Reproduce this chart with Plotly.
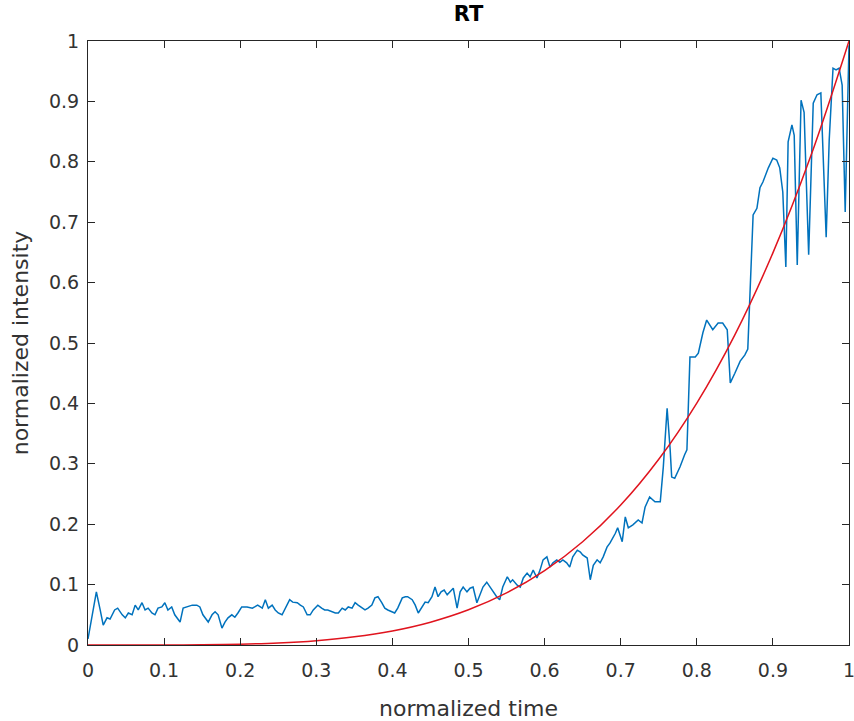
import plotly.graph_objects as go

# Measured intensity trace (normalized time vs normalized intensity)
time_pts = [
    0.000, 0.011, 0.016, 0.020, 0.025, 0.029, 0.035, 0.039, 0.045, 0.049,
    0.053, 0.058, 0.062, 0.066, 0.071, 0.075, 0.079, 0.084, 0.088, 0.092,
    0.097, 0.101, 0.105, 0.110, 0.114, 0.121, 0.125, 0.131, 0.137, 0.143,
    0.147, 0.151, 0.158, 0.163, 0.167, 0.171, 0.176, 0.180, 0.184, 0.189,
    0.193, 0.197, 0.202, 0.209, 0.216, 0.219, 0.223, 0.229, 0.233, 0.237,
    0.242, 0.246, 0.250, 0.255, 0.259, 0.265, 0.269, 0.275, 0.279, 0.283,
    0.288, 0.292, 0.296, 0.302, 0.307, 0.311, 0.315, 0.321, 0.325, 0.329,
    0.334, 0.338, 0.342, 0.347, 0.351, 0.355, 0.360, 0.364, 0.368, 0.373,
    0.377, 0.381, 0.386, 0.390, 0.394, 0.399, 0.403, 0.407, 0.413, 0.417,
    0.420, 0.426, 0.430, 0.434, 0.439, 0.443, 0.447, 0.452, 0.456, 0.460,
    0.464, 0.468, 0.472, 0.476, 0.480, 0.485, 0.489, 0.493, 0.498, 0.502,
    0.506, 0.511, 0.515, 0.519, 0.524, 0.528, 0.532, 0.537, 0.541, 0.545,
    0.551, 0.555, 0.558, 0.564, 0.568, 0.572, 0.577, 0.581, 0.585, 0.590,
    0.594, 0.598, 0.603, 0.607, 0.611, 0.616, 0.620, 0.624, 0.629, 0.633,
    0.637, 0.643, 0.647, 0.650, 0.656, 0.660, 0.664, 0.669, 0.673, 0.677,
    0.682, 0.686, 0.693, 0.696, 0.702, 0.706, 0.710, 0.716, 0.723, 0.728,
    0.732, 0.738, 0.745, 0.752, 0.756, 0.761, 0.765, 0.767, 0.771, 0.778,
    0.784, 0.787, 0.791, 0.798, 0.802, 0.808, 0.813, 0.817, 0.821, 0.828,
    0.834, 0.840, 0.844, 0.850, 0.857, 0.863, 0.867, 0.874, 0.879, 0.883,
    0.887, 0.894, 0.900, 0.905, 0.909, 0.913, 0.917, 0.920, 0.925, 0.928,
    0.932, 0.937, 0.941, 0.947, 0.953, 0.958, 0.963, 0.970, 0.974, 0.979,
    0.983, 0.987, 0.991, 0.995, 0.999, 1.000,
]
intensity = [
    0.010, 0.088, 0.058, 0.033, 0.045, 0.043, 0.058, 0.061, 0.050, 0.045,
    0.053, 0.050, 0.066, 0.058, 0.070, 0.058, 0.061, 0.053, 0.050, 0.061,
    0.063, 0.070, 0.058, 0.063, 0.050, 0.038, 0.061, 0.063, 0.066, 0.066,
    0.063, 0.050, 0.038, 0.050, 0.055, 0.050, 0.028, 0.038, 0.045, 0.050,
    0.046, 0.053, 0.063, 0.063, 0.061, 0.063, 0.066, 0.061, 0.075, 0.061,
    0.066, 0.058, 0.053, 0.050, 0.061, 0.075, 0.071, 0.070, 0.066, 0.063,
    0.050, 0.050, 0.058, 0.066, 0.061, 0.058, 0.058, 0.055, 0.053, 0.053,
    0.061, 0.058, 0.063, 0.061, 0.070, 0.066, 0.061, 0.058, 0.061, 0.066,
    0.078, 0.080, 0.070, 0.061, 0.058, 0.055, 0.053, 0.061, 0.078, 0.080,
    0.080, 0.075, 0.066, 0.053, 0.063, 0.071, 0.070, 0.080, 0.096, 0.080,
    0.088, 0.091, 0.083, 0.088, 0.094, 0.061, 0.088, 0.096, 0.088, 0.094,
    0.096, 0.070, 0.083, 0.096, 0.104, 0.096, 0.088, 0.080, 0.075, 0.096,
    0.113, 0.104, 0.108, 0.099, 0.096, 0.111, 0.119, 0.113, 0.124, 0.111,
    0.124, 0.141, 0.146, 0.129, 0.136, 0.141, 0.137, 0.141, 0.136, 0.129,
    0.146, 0.157, 0.154, 0.149, 0.144, 0.108, 0.132, 0.141, 0.136, 0.146,
    0.162, 0.169, 0.185, 0.194, 0.171, 0.212, 0.194, 0.199, 0.207, 0.202,
    0.228, 0.245, 0.237, 0.237, 0.295, 0.392, 0.323, 0.278, 0.276, 0.295,
    0.315, 0.323, 0.477, 0.477, 0.483, 0.517, 0.538, 0.530, 0.522, 0.533,
    0.533, 0.522, 0.434, 0.450, 0.470, 0.480, 0.490, 0.712, 0.723, 0.757,
    0.767, 0.790, 0.806, 0.803, 0.790, 0.750, 0.626, 0.833, 0.861, 0.844,
    0.629, 0.902, 0.882, 0.646, 0.897, 0.911, 0.914, 0.675, 0.836, 0.955,
    0.952, 0.955, 0.927, 0.717, 0.965, 0.993,
]

# Fitted curve
fit_time = [0.00, 0.05, 0.10, 0.15, 0.20, 0.25, 0.30, 0.35, 0.40, 0.45, 0.50,
            0.55, 0.60, 0.65, 0.70, 0.75, 0.80, 0.85, 0.90, 0.95, 1.00]
fit_value = [0.0, 0.0, 0.0001, 0.0004, 0.0014, 0.0034, 0.0072, 0.0135, 0.0233,
             0.0378, 0.0583, 0.0862, 0.1231, 0.1710, 0.2317, 0.3075, 0.4006,
             0.5136, 0.6492, 0.8103, 1.0]

tick_vals = [0, 0.1, 0.2, 0.3, 0.4, 0.5, 0.6, 0.7, 0.8, 0.9, 1]
tick_text = ["0", "0.1", "0.2", "0.3", "0.4", "0.5", "0.6", "0.7", "0.8", "0.9", "1"]

FONT = "DejaVu Sans, Arial, sans-serif"
AX_COLOR = "#262626"
TXT_COLOR = "#333333"

fig = go.Figure()
fig.add_trace(go.Scatter(x=time_pts, y=intensity, mode="lines",
                         line=dict(color="#0072BD", width=1.5),
                         showlegend=False, hoverinfo="skip"))
fig.add_trace(go.Scatter(x=fit_time, y=fit_value, mode="lines",
                         line=dict(color="#E0141E", width=1.5, shape="spline", smoothing=1.0),
                         showlegend=False, hoverinfo="skip"))

axis_common = dict(
    range=[0, 1], tickvals=tick_vals, ticktext=tick_text,
    ticks="inside", ticklen=7, tickwidth=1, tickcolor=AX_COLOR,
    showline=True, linecolor=AX_COLOR, linewidth=1, mirror="allticks",
    showgrid=False, zeroline=False, ticklabeloverflow="allow", automargin=False,
    tickfont=dict(family=FONT, size=19, color=TXT_COLOR),
)

fig.update_layout(
    width=854, height=721,
    margin=dict(l=88, r=5, t=41, b=76, autoexpand=False),
    paper_bgcolor="white", plot_bgcolor="white",
    title=dict(text="<b>RT</b>", x=(88 + 849) / 2 / 854, xanchor="center",
               y=1 - 14 / 721, yanchor="middle",
               font=dict(family=FONT, size=21, color="#000000")),
    xaxis=dict(axis_common, ticklabelstandoff=8,
               title=dict(text="normalized time", standoff=22,
                          font=dict(family=FONT, size=22, color=TXT_COLOR))),
    yaxis=dict(axis_common, ticklabelstandoff=4,
               title=dict(text="normalized intensity", standoff=14,
                          font=dict(family=FONT, size=22, color=TXT_COLOR))),
)

fig.write_html("out.html")
